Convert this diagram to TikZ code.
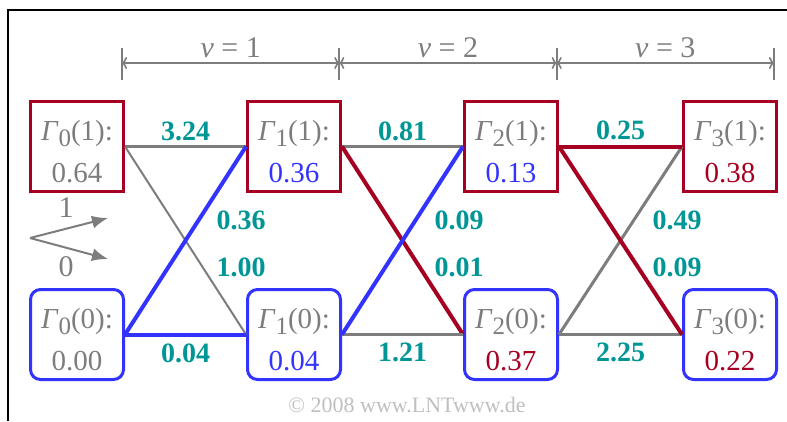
\documentclass[tikz,border=0pt]{standalone}
\usepackage{fontspec}
\setmainfont{Liberation Serif}
\usetikzlibrary{positioning,arrows.meta}
\definecolor{lntred}{RGB}{165,0,33}
\definecolor{lntblue}{RGB}{51,51,255}
\definecolor{lntteal}{RGB}{0,150,150}
\definecolor{lntgray}{RGB}{125,125,125}
\newcommand{\gam}[2]{\rule{0pt}{30pt}\textit{Γ}\raisebox{-0.45ex}{\fontsize{25}{25}\selectfont #1}(#2):\\}

\begin{document}
\begin{tikzpicture}[x=1pt,y=-1pt,>=latex,node distance=95pt and 121pt,
    onebox/.style={draw=lntred,line width=3pt,minimum width=93pt,minimum height=90pt,inner sep=0pt,align=center,text=lntgray,font=\fontsize{29}{42}\selectfont},
    zerobox/.style={onebox,draw=lntblue,rounded corners=10pt},
    grayedge/.style={lntgray,line width=3pt},
    thinedge/.style={lntgray,line width=2pt},
    blueedge/.style={lntblue,line width=4pt},
    rededge/.style={lntred,line width=4pt},
    metric/.style={text=lntteal,font=\bfseries\fontsize{28}{28}\selectfont},
    dimline/.style={lntgray,line width=2pt},
    graytext/.style={text=lntgray,font=\fontsize{30}{30}\selectfont}]
    \useasboundingbox (0,0) rectangle (787,421);
    \draw[line width=2pt] (8,421) -- (8,10) -- (787,10);

    % trellis states
    \node[onebox] (a1) at (77,146.5) {\gam{0}{1}0.64};
    \node[onebox,right=of a1] (b1) {\gam{1}{1}\textcolor{lntblue}{0.36}};
    \node[onebox,right=of b1] (c1) {\gam{2}{1}\textcolor{lntblue}{0.13}};
    \node[onebox,right=123pt of c1] (d1) {\gam{3}{1}\textcolor{lntred}{0.38}};
    \node[zerobox,below=of a1] (a0) {\gam{0}{0}0.00};
    \node[zerobox,below=of b1] (b0) {\gam{1}{0}\textcolor{lntblue}{0.04}};
    \node[zerobox,below=of c1] (c0) {\gam{2}{0}\textcolor{lntred}{0.37}};
    \node[zerobox,below=of d1] (d0) {\gam{3}{0}\textcolor{lntred}{0.22}};

    % step v = 1
    \draw[grayedge] (a1.east) -- node[metric,above=1pt] {3.24} (b1.west);
    \draw[thinedge] (a1.east) -- (b0.west);
    \draw[blueedge] (a0.east) -- (b1.west);
    \draw[blueedge] (a0.east) -- node[metric,below=4pt] {0.04} (b0.west);
    \node[metric] at (241,220) {0.36};
    \node[metric] at (241,267) {1.00};

    % step v = 2
    \draw[grayedge] (b1.east) -- node[metric,above=1pt] {0.81} (c1.west);
    \draw[rededge] (b1.east) -- (c0.west);
    \draw[grayedge] (b0.east) -- node[metric,below=4pt] {1.21} (c0.west);
    \draw[blueedge] (b0.east) -- (c1.west);
    \node[metric] at (459,220) {0.09};
    \node[metric] at (459,267) {0.01};

    % step v = 3
    \draw[grayedge] (c0.east) -- (d1.west);
    \draw[grayedge] (c0.east) -- node[metric,below=4pt] {2.25} (d0.west);
    \draw[rededge] (c1.east) -- node[metric,above=1pt] {0.25} (d1.west);
    \draw[rededge] (c1.east) -- (d0.west);
    \node[metric] at (677,220) {0.49};
    \node[metric] at (677,267) {0.09};

    % time steps
    \foreach \i in {0,...,3} {
        \coordinate (t\i) at (122+217.33*\i,63);
        \draw[dimline] (122+217.33*\i,48) -- (122+217.33*\i,80);
    }
    \foreach \i/\j/\v in {0/1/1,1/2/2,2/3/3}
        \draw[dimline,{Classical TikZ Rightarrow[length=5pt,width=12pt]}-{Classical TikZ Rightarrow[length=5pt,width=12pt]}] (t\i) -- node[graytext,above=1pt] {\textit{v} = \v} (t\j);

    % legend
    \coordinate (fork) at (30,238);
    \coordinate (up) at (108,218);
    \coordinate (down) at (108,259);
    \draw[lntgray,line width=2pt,-{Latex[length=16pt,width=13pt]}] (fork) -- (up);
    \draw[lntgray,line width=2pt,-{Latex[length=16pt,width=13pt]}] (fork) -- (down);
    \node[graytext] (one) at (66,208) {1};
    \node[graytext] (zero) at (66,267) {0};

    \node[text=black!25,font=\fontsize{22}{22}\selectfont] (copy) at (407,405) {© 2008 www.LNTwww.de};
\end{tikzpicture}
\end{document}
